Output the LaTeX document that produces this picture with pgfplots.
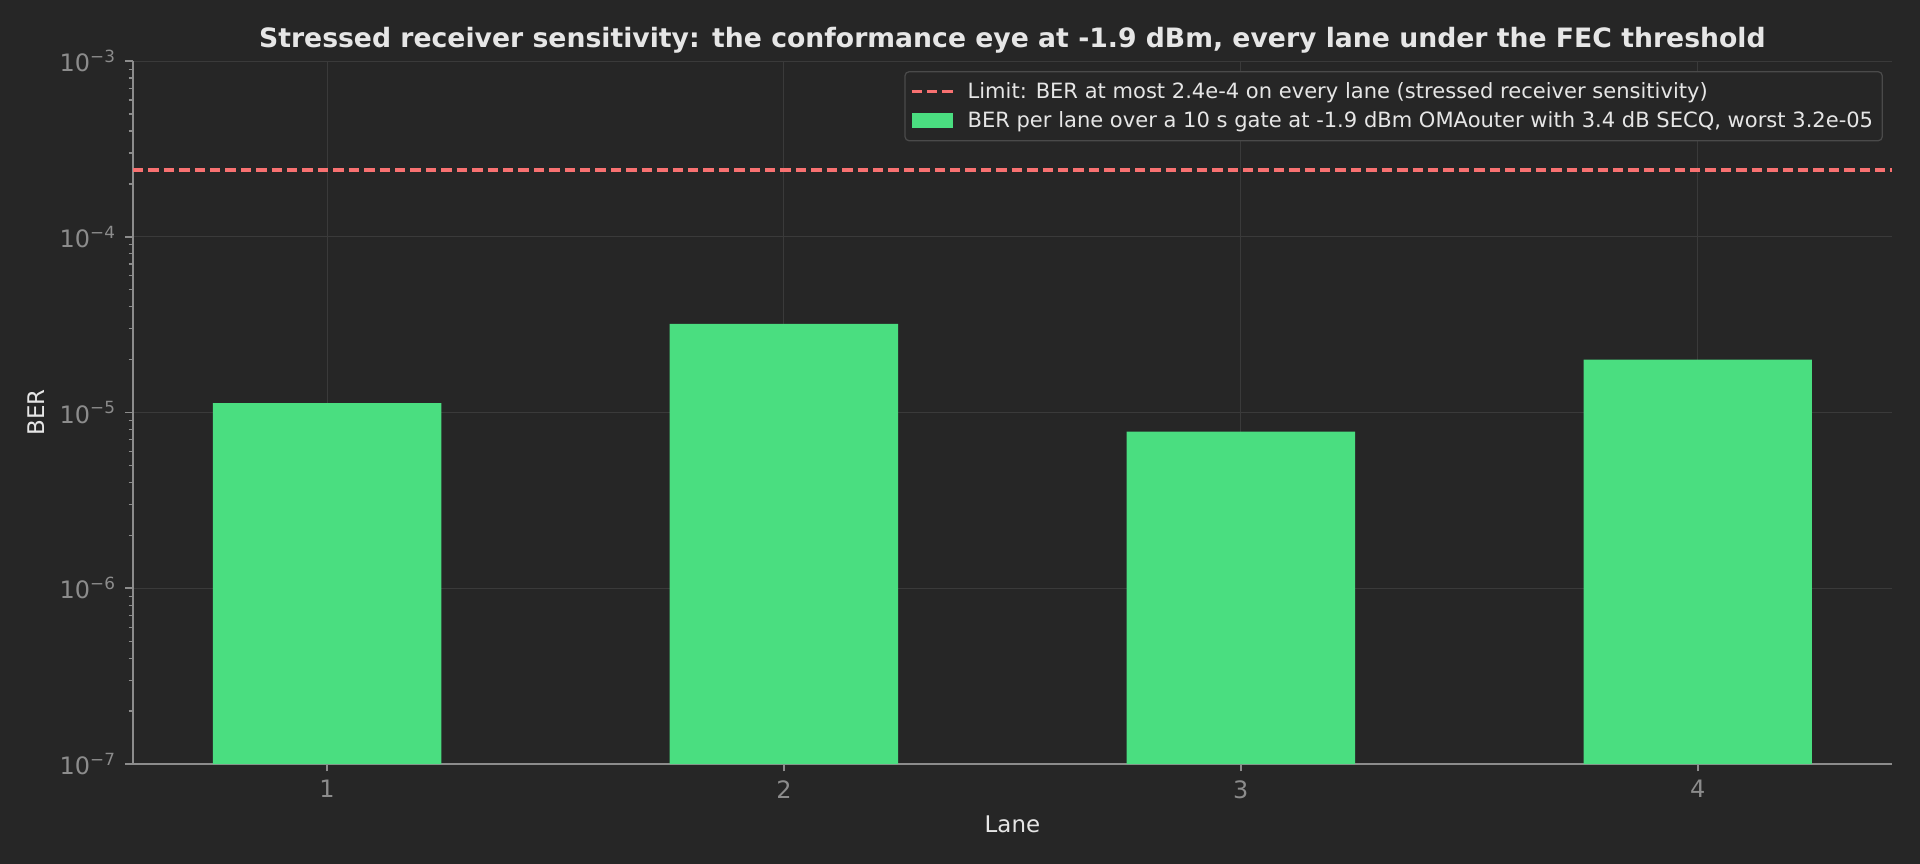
\documentclass[border=0pt]{standalone}
\usepackage{pgfplots}
\pgfplotsset{compat=1.18}
\usepackage{fontspec}
\setmainfont{DejaVu Sans}

\definecolor{bg}{HTML}{262626}
\definecolor{bargreen}{HTML}{4ADE80}
\definecolor{limitred}{HTML}{F87171}
\definecolor{gridc}{HTML}{3A3A3A}
\definecolor{spine}{HTML}{8C8C8C}
\definecolor{ticktext}{HTML}{8C8C8C}
\definecolor{maintext}{HTML}{E6E6E6}
\definecolor{legborder}{HTML}{4A4A4A}

\pgfplotsset{
    linelegend/.style={legend image code/.code={\draw[##1, sharp corners] (0pt,0pt) -- (20pt,0pt);}},
    patchlegend/.style={legend image code/.code={\fill[##1, sharp corners] (0pt,-3.6pt) rectangle (20pt,3.6pt);}},
}

\begin{document}
\begin{tikzpicture}
% background, sized to the reference (1920x864 -> 921.6pt x 414.72pt)
\fill[bg] (-63.8pt,-48pt) rectangle (857.8pt,366.72pt);
\begin{axis}[
    at={(0,0)}, anchor=south west,
    scale only axis,
    width=844.3pt, height=337.4pt,
    ymode=log, log origin=infty,
    xmin=0.575, xmax=4.425,
    ymin=1e-7, ymax=1e-3,
    axis lines*=left,
    axis line style={spine, line width=0.9pt},
    xtick={1,2,3,4},
    xticklabels={1,2,3,4},
    ytick={1e-7,1e-6,1e-5,1e-4,1e-3},
    yticklabels={10\textsuperscript{−7},10\textsuperscript{−6},10\textsuperscript{−5},10\textsuperscript{−4},10\textsuperscript{−3}},
    minor ytick={2e-7,3e-7,4e-7,5e-7,6e-7,7e-7,8e-7,9e-7,
                 2e-6,3e-6,4e-6,5e-6,6e-6,7e-6,8e-6,9e-6,
                 2e-5,3e-5,4e-5,5e-5,6e-5,7e-5,8e-5,9e-5,
                 2e-4,3e-4,4e-4,5e-4,6e-4,7e-4,8e-4,9e-4},
    tick align=outside,
    major tick length=3.6pt, minor tick length=2pt,
    every tick/.style={spine, line width=0.8pt},
    minor tick style={spine, line width=0.6pt},
    ticklabel style={ticktext, font=\fontsize{11.5}{13.5}\selectfont},
    yticklabel style={xshift=-1pt},
    xticklabel style={yshift=-0.8pt},
    xmajorgrids, ymajorgrids,
    major grid style={gridc, line width=0.5pt},
    bar width=0.5,
    title={\bfseries Stressed receiver sensitivity: the conformance eye at -1.9 dBm, every lane under the FEC threshold},
    title style={maintext, font=\fontsize{12.8}{15}\selectfont, at={(axis description cs:0.5,1)}, anchor=center, yshift=3.9pt},
    xlabel={Lane},
    xlabel style={maintext, font=\fontsize{11}{13}\selectfont, at={(axis description cs:0.5,0)}, anchor=center, yshift=-29pt},
    ylabel={BER},
    ylabel style={maintext, font=\fontsize{11}{13}\selectfont, at={([xshift=-46.5pt]axis description cs:0,0.5)}, anchor=center},
    legend style={
        at={(axis description cs:1,1)}, anchor=north east,
        xshift=-4.3pt, yshift=-4.8pt,
        fill=bg, draw=legborder, line width=0.6pt, rounded corners=2pt,
        text=maintext, font=\fontsize{10.1}{12}\selectfont,
        row sep=0.8pt, inner xsep=2.4pt, inner ysep=3pt,
        nodes={inner xsep=2pt},
        /tikz/every odd column/.append style={column sep=4.2pt},
    },
    legend cell align=left,
]

% limit line
\addplot[limitred, line width=1.45pt, dash pattern=on 5pt off 2.4pt, mark=none, linelegend]
    coordinates {(0.575,2.4e-4) (4.425,2.4e-4)};
\addlegendentry{Limit: BER at most 2.4e-4 on every lane (stressed receiver sensitivity)}

% BER per lane
\addplot[ybar, bar shift=0pt, fill=bargreen, draw=none, patchlegend]
    coordinates {(1,1.13e-5) (2,3.2e-5) (3,7.8e-6) (4,2.0e-5)};
\addlegendentry{BER per lane over a 10 s gate at -1.9 dBm OMAouter with 3.4 dB SECQ, worst 3.2e-05}

\end{axis}
\pgfresetboundingbox
\useasboundingbox (-63.8pt,-48pt) rectangle (857.8pt,366.72pt);
\end{tikzpicture}
\end{document}
